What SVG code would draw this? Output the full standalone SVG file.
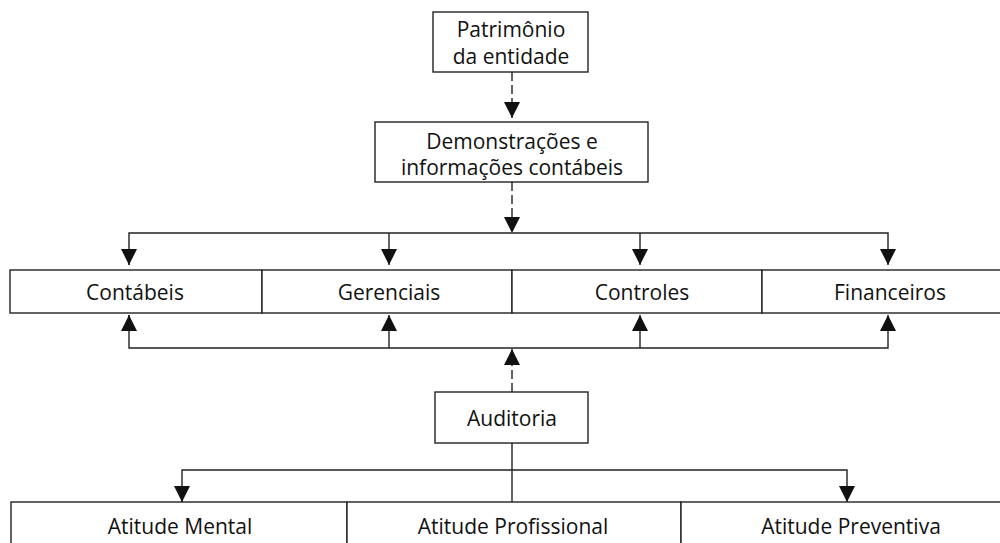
<svg xmlns="http://www.w3.org/2000/svg" width="1000" height="543" viewBox="0 0 1000 543">
<style>
.box{fill:#fff;stroke:#222;stroke-width:1.4}
.t{font-family:"Open Sans","Noto Sans",sans-serif;font-size:21px;fill:#111;text-anchor:middle;dominant-baseline:central}
.c{fill:none;stroke:#222;stroke-width:1.4}
.d{stroke-dasharray:9 4}
</style>
<defs>
<marker id="ah" markerUnits="userSpaceOnUse" markerWidth="16" markerHeight="16" viewBox="0 0 15 15" refX="15" refY="7.5" orient="auto">
<path d="M0,0 L15,7.5 L0,15 Z" fill="#111"/>
</marker>
</defs>
<rect width="1000" height="543" fill="#fff"/>
<g id="connectors">
<line class="c d" x1="512" y1="72" x2="512" y2="118" marker-end="url(#ah)"/>
<line class="c d" x1="512" y1="182" x2="512" y2="233" marker-end="url(#ah)"/>
<polyline class="c" points="129,265 129,233 888,233 888,265" marker-end="url(#ah)"/>
<line class="c" x1="129" y1="250" x2="129" y2="265" marker-end="url(#ah)"/>
<line class="c" x1="389" y1="233" x2="389" y2="265" marker-end="url(#ah)"/>
<line class="c" x1="640" y1="233" x2="640" y2="265" marker-end="url(#ah)"/>
<polyline class="c" points="129,315 129,348 888,348 888,315" marker-end="url(#ah)"/>
<line class="c" x1="129" y1="330" x2="129" y2="315" marker-end="url(#ah)"/>
<line class="c" x1="389" y1="348" x2="389" y2="315" marker-end="url(#ah)"/>
<line class="c" x1="640" y1="348" x2="640" y2="315" marker-end="url(#ah)"/>
<line class="c d" x1="512" y1="392" x2="512" y2="349" marker-end="url(#ah)"/>
<line class="c" x1="512" y1="443" x2="512" y2="502"/>
<polyline class="c" points="182,502 182,470 847,470 847,502" marker-end="url(#ah)"/>
<line class="c" x1="182" y1="490" x2="182" y2="502" marker-end="url(#ah)"/>
</g>
<g id="patrimonio">
<rect class="box" x="433" y="12" width="155" height="60"/>
<text class="t" x="511" y="29">Patrimônio</text>
<text class="t" x="511" y="56">da entidade</text>
</g>
<g id="demonstracoes">
<rect class="box" x="375" y="122" width="273" height="60"/>
<text class="t" x="512" y="141">Demonstrações e</text>
<text class="t" x="512" y="167">informações contábeis</text>
</g>
<g id="contabeis">
<rect class="box" x="10" y="270" width="252" height="43"/>
<text class="t" x="135" y="292">Contábeis</text>
</g>
<g id="gerenciais">
<rect class="box" x="262" y="270" width="250" height="43"/>
<text class="t" x="389" y="292">Gerenciais</text>
</g>
<g id="controles">
<rect class="box" x="512" y="270" width="250" height="43"/>
<text class="t" x="642" y="292">Controles</text>
</g>
<g id="financeiros">
<rect class="box" x="762" y="270" width="250" height="43"/>
<text class="t" x="890" y="292">Financeiros</text>
</g>
<g id="auditoria">
<rect class="box" x="435" y="392" width="153" height="51"/>
<text class="t" x="512" y="418">Auditoria</text>
</g>
<g id="atitude-mental">
<rect class="box" x="11" y="502" width="336" height="60"/>
<text class="t" x="180" y="526">Atitude Mental</text>
</g>
<g id="atitude-profissional">
<rect class="box" x="347" y="502" width="334" height="60"/>
<text class="t" x="513" y="526">Atitude Profissional</text>
</g>
<g id="atitude-preventiva">
<rect class="box" x="681" y="502" width="334" height="60"/>
<text class="t" x="851" y="526">Atitude Preventiva</text>
</g>
</svg>
